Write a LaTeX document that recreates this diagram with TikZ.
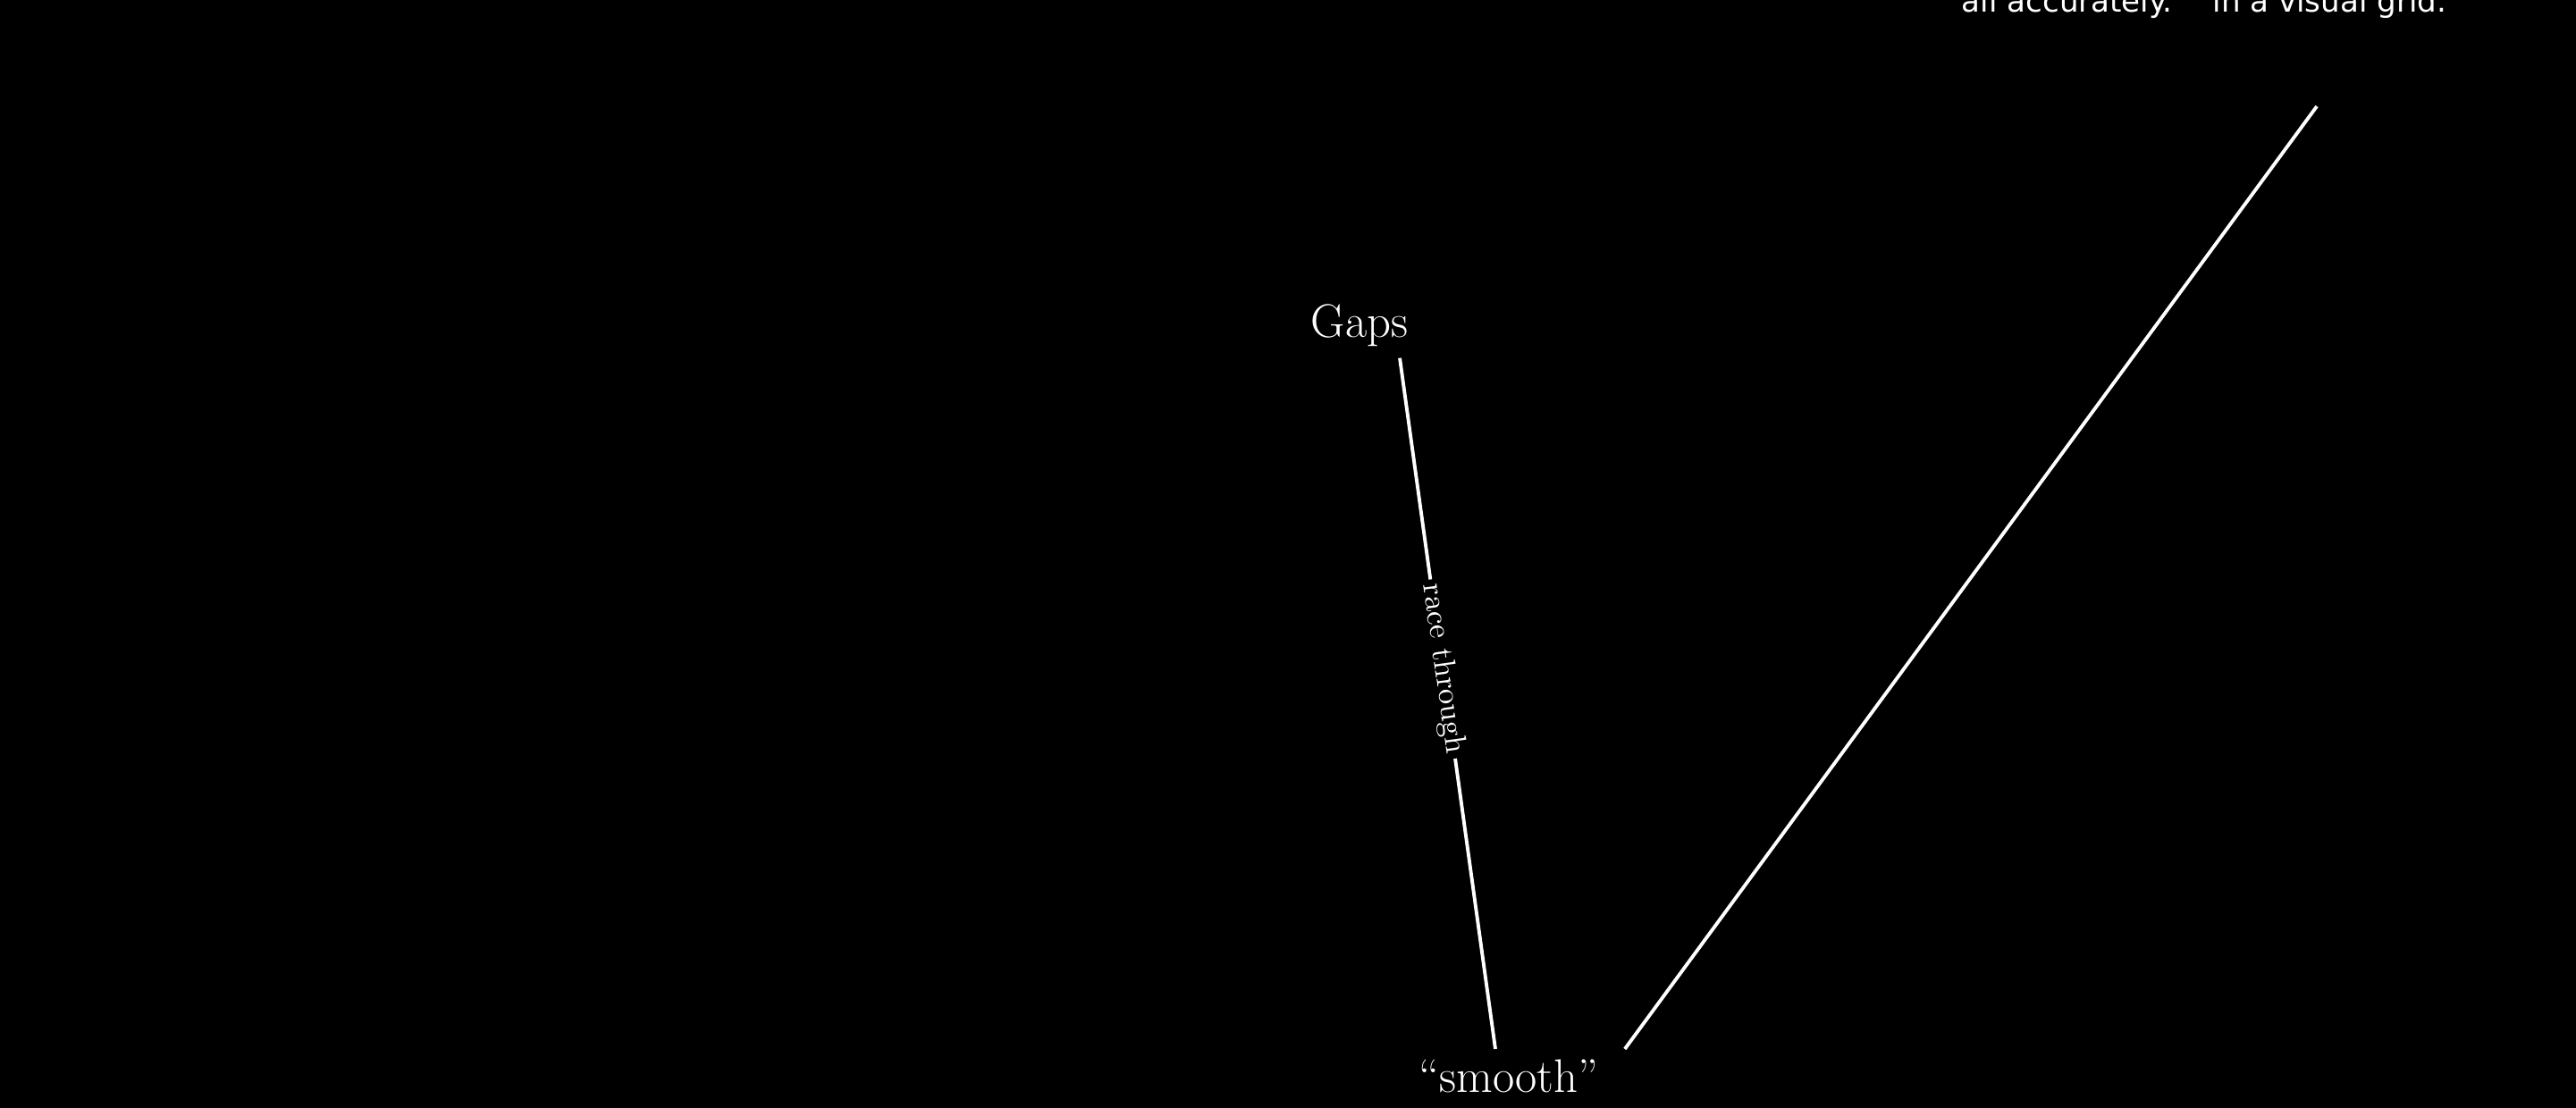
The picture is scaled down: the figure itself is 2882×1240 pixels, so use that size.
\documentclass[tikz,border=0pt]{standalone}
\usepackage{fontspec}
\newfontfamily\notefont{DejaVu Sans}
\usetikzlibrary{positioning}

\begin{document}
\begin{tikzpicture}[
    x=0.01cm, y=0.01cm,
    lbl/.style={text=white, font=\fontsize{15}{18}\selectfont, anchor=base},
    note/.style={text=white, font=\notefont\fontsize{9.7}{11}\selectfont, anchor=base},
    tag/.style={text=white, fill=black, inner sep=1.5pt, font=\fontsize{9.8}{11}\selectfont, sloped},
    lnk/.style={draw=white, line width=1.1pt}
]
    \fill [black] (0,0) rectangle (2882,1240);
    \useasboundingbox (0,0) rectangle (2882,1240);

    \node [lbl] (gaps) at (1521,862) {Gaps};
    \node [lbl] (smooth) at (1688,17) {“smooth”};
    \node [note] (grid) at (2466,1226) {all accurately.’\quad in a visual grid.};
    \coordinate (gridend) at (2592,1121);

    \draw [lnk] ([xshift=0.45cm]gaps.south) -- node [tag, pos=0.45] {race through} ([xshift=-0.15cm]smooth.north);
    \draw [lnk] ([xshift=0.17cm]smooth.north east) -- (gridend);
\end{tikzpicture}
\end{document}
